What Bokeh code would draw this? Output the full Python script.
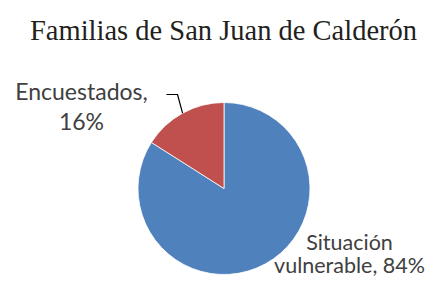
import math
from bokeh.plotting import figure
from bokeh.models import Range1d
from bokeh.core.properties import value
from bokeh.embed import file_html
from bokeh.resources import INLINE

title_text = "Familias de San Juan de Calderón"
categories = ["Situación vulnerable", "Encuestados"]
percents = [84, 16]
colors = ["#4F81BD", "#C0504D"]

W, H = 430, 279
p = figure(width=W, height=H, output_backend="svg", toolbar_location=None,
           x_range=Range1d(0, W), y_range=Range1d(0, H),
           min_border=0, title=None)
p.axis.visible = False
p.grid.visible = False
p.outline_line_color = None
p.background_fill_color = "white"

def Y(py):
    return H - py

cx, cy, r = 223.5, Y(188), 86
total = sum(percents)
# Excel-style: first slice starts at 12 o'clock and goes clockwise
start = math.pi / 2
angles = []
for v in percents:
    span = v / total * 2 * math.pi
    end = start - span
    angles.append((end, start))
    start = end
for (a0, a1), c in zip(angles, colors):
    p.wedge(x=[cx], y=[cy], radius=r, start_angle=a0, end_angle=a1,
            fill_color=c, line_color="white", line_width=0.8)

# leader line for the small slice
mid = (angles[1][0] + angles[1][1]) / 2
ex, ey = cx + r * math.cos(mid), cy + r * math.sin(mid)
p.line(x=[166, 177, ex], y=[Y(94), Y(94), ey], line_color="#000000", line_width=1.2)

font = value("Lato")
lab_color = "#404040"
p.text(x=[81, 81], y=[Y(90), Y(120)],
       text=[categories[1] + ",", f"{percents[1]}%"],
       text_font=font, text_font_size="23px", text_color=lab_color,
       text_align="center", text_baseline="middle")
p.text(x=[349, 349], y=[Y(241), Y(264)],
       text=["Situación", f"vulnerable, {percents[0]}%"],
       text_font=font, text_font_size="21.5px", text_color=lab_color,
       text_align="center", text_baseline="middle")

p.text(x=[223], y=[Y(30)], text=[title_text], text_font=value("Liberation Serif"),
       text_font_size="28.5px", text_color="#231F20",
       text_align="center", text_baseline="middle")

open("out.html", "w").write(file_html(p, INLINE))
